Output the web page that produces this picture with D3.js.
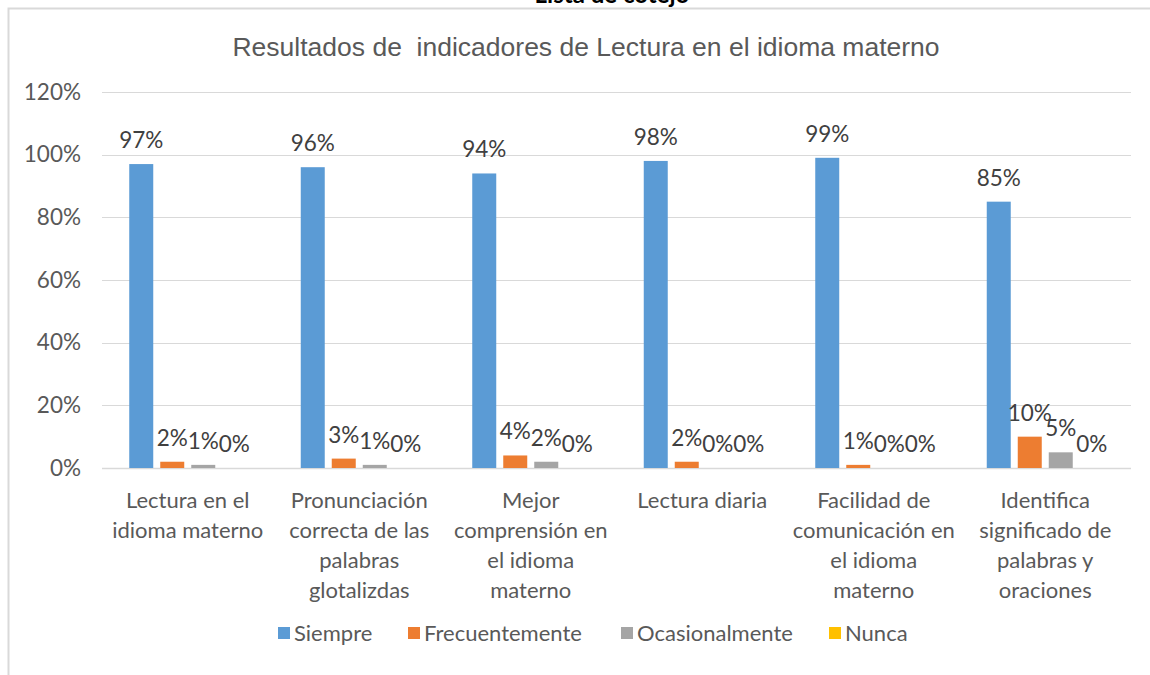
<!DOCTYPE html>
<html>
<head>
<meta charset="utf-8">
<script src="https://cdn.jsdelivr.net/npm/d3@7"></script>
<style>
  body { margin: 0; background: #fff; }
  svg { display: block; }
</style>
</head>
<body>
<div id="chart"></div>
<script>
// categories (line breaks as Excel wraps them)
var categories = [
  "Lectura en el\nidioma materno",
  "Pronunciación\ncorrecta de las\npalabras\nglotalizdas",
  "Mejor\ncomprensión en\nel idioma\nmaterno",
  "Lectura diaria",
  "Facilidad de\ncomunicación en\nel idioma\nmaterno",
  "Identifica\nsignificado de\npalabras y\noraciones"
];
var seriesNames = ["Siempre", "Frecuentemente", "Ocasionalmente", "Nunca"];
var siempre = [97, 96, 94, 98, 99, 85];
var frecuentemente = [2, 3, 4, 2, 1, 10];
var ocasionalmente = [1, 1, 2, 0, 0, 5];
var nunca = [0, 0, 0, 0, 0, 0];
var yTicks = [0, 20, 40, 60, 80, 100, 120];
var colors = ["#5b9bd5", "#ed7d31", "#a5a5a5", "#ffc000"];

var seriesValues = [siempre, frecuentemente, ocasionalmente, nunca];

//Width and height
var w = 1150;
var h = 675;
var font = "Lato, 'Open Sans', sans-serif";

var svg = d3.select("#chart")
    .append("svg")
    .attr("width", w)
    .attr("height", h);

// cut-off heading above the chart frame
svg.append("text")
  .attr("x", 612)
  .attr("y", 3)
  .attr("text-anchor", "middle")
  .attr("font-family", font)
  .attr("font-weight", "bold")
  .attr("font-size", 24)
  .attr("fill", "#000")
  .text("Lista de cotejo");

// chart frame (left and top edges visible)
svg.append("path")
  .attr("d", "M8.5,675 V8.5 H1150")
  .attr("fill", "none")
  .attr("stroke", "#d9d9d9")
  .attr("stroke-width", 2);

// title
svg.append("text")
  .attr("x", 586)
  .attr("y", 56)
  .attr("text-anchor", "middle")
  .attr("font-family", "'Liberation Sans', Arial, sans-serif")
  .attr("font-size", 26.5)
  .attr("fill", "#595959")
  .style("white-space", "pre")
  .text("Resultados de  indicadores de Lectura en el idioma materno");

var x0 = d3.scaleBand()
  .domain(d3.range(categories.length))
  .range([102, 1131]);

var x1 = d3.scaleBand()
  .domain(d3.range(seriesNames.length))
  .range([0, x0.bandwidth()])
  .paddingInner(0.226)
  .paddingOuter(0.879);

var y = d3.scaleLinear()
  .domain([0, 120])
  .range([468, 92]);

// gridlines
svg.append("g")
  .selectAll("line")
  .data(yTicks)
  .enter()
  .append("line")
  .attr("x1", 102)
  .attr("x2", 1131)
  .attr("y1", function(d) { return Math.round(y(d)) + 0.5; })
  .attr("y2", function(d) { return Math.round(y(d)) + 0.5; })
  .attr("stroke", "#d9d9d9")
  .attr("stroke-width", function(d) { return d === 0 ? 1.5 : 1; });

// y axis labels
var yAxis = d3.axisLeft(y)
  .tickValues(yTicks)
  .tickSize(0)
  .tickPadding(0)
  .tickFormat(function(d) { return d + "%"; });

var yg = svg.append("g")
  .attr("transform", "translate(81,0)")
  .call(yAxis);
yg.select(".domain").remove();
yg.selectAll("text")
  .attr("font-family", font)
  .attr("font-size", 22.5)
  .attr("fill", "#595959");

// bars
var groups = svg.append("g")
  .selectAll("g")
  .data(categories)
  .enter()
  .append("g")
  .attr("transform", function(d, i) { return "translate(" + x0(i) + ",0)"; });

groups.selectAll("rect")
  .data(function(d, i) {
    return seriesValues.map(function(s, j) { return { s: j, v: s[i] }; });
  })
  .enter()
  .append("rect")
  .attr("x", function(d) { return x1(d.s); })
  .attr("y", function(d) { return y(d.v); })
  .attr("width", x1.bandwidth())
  .attr("height", function(d) { return y(0) - y(d.v); })
  .attr("fill", function(d) { return colors[d.s]; });

// data labels
groups.selectAll("text.lbl")
  .data(function(d, i) {
    return seriesValues.map(function(s, j) { return { s: j, v: s[i] }; });
  })
  .enter()
  .append("text")
  .attr("class", "lbl")
  .attr("x", function(d) { return x1(d.s) + x1.bandwidth() / 2; })
  .attr("y", function(d) { return y(d.v) - 16; })
  .attr("text-anchor", "middle")
  .attr("font-family", font)
  .attr("font-size", 22.5)
  .attr("fill", "#404040")
  .text(function(d) { return d.v + "%"; });

// x axis category labels
var xg = svg.append("g");
categories.forEach(function(c, i) {
  var t = xg.append("text")
    .attr("x", x0(i) + x0.bandwidth() / 2)
    .attr("y", 508)
    .attr("text-anchor", "middle")
    .attr("font-family", font)
    .attr("font-size", 22)
    .attr("fill", "#595959");
  c.split("\n").forEach(function(line, k) {
    t.append("tspan")
      .attr("x", x0(i) + x0.bandwidth() / 2)
      .attr("dy", k === 0 ? 0 : 30)
      .text(line);
  });
});

// legend
var legendX = [278, 408, 621, 829];
var legend = svg.append("g")
  .selectAll("g")
  .data(seriesNames)
  .enter()
  .append("g")
  .attr("transform", function(d, i) { return "translate(" + legendX[i] + ",627)"; });

legend.append("rect")
  .attr("width", 12)
  .attr("height", 12)
  .attr("fill", function(d, i) { return colors[i]; });

legend.append("text")
  .attr("x", 16)
  .attr("y", 14)
  .attr("font-family", font)
  .attr("font-size", 22)
  .attr("fill", "#595959")
  .text(function(d) { return d; });
</script>
</body>
</html>
